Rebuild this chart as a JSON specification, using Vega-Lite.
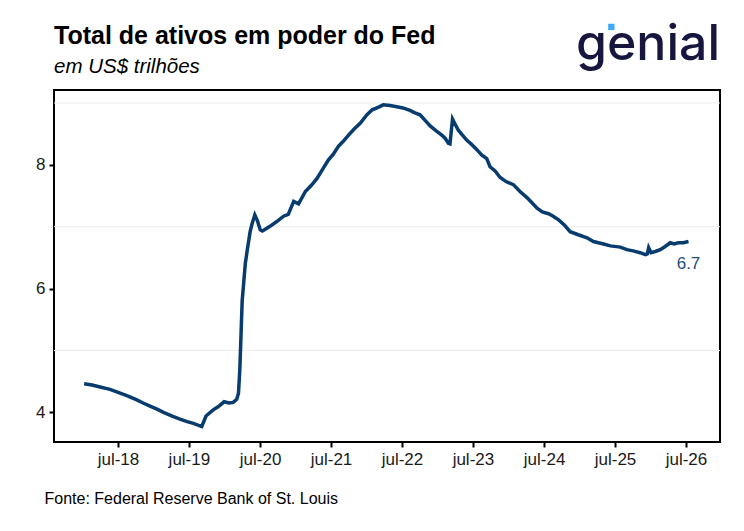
{
  "$schema": "https://vega.github.io/schema/vega-lite/v6.json",
  "width": 666,
  "height": 352,
  "autosize": "none",
  "padding": {"left": 54, "top": 90, "right": 24, "bottom": 89},
  "background": "white",
  "title": {
    "text": "Total de ativos em poder do Fed",
    "subtitle": "em US$ trilhões",
    "anchor": "start",
    "frame": "group",
    "font": "Liberation Sans",
    "fontSize": 25,
    "fontWeight": "bold",
    "color": "black",
    "subtitleFont": "Liberation Sans",
    "subtitleFontSize": 20.5,
    "subtitleFontStyle": "italic",
    "subtitleColor": "black",
    "subtitlePadding": 8,
    "offset": 12,
    "dy": 69
  },
  "config": {
    "view": {"stroke": "black", "strokeWidth": 2},
    "axis": {
      "labelFont": "Liberation Sans",
      "labelColor": "#1a1a1a",
      "labelFontSize": 17,
      "domain": false,
      "grid": false,
      "tickColor": "black",
      "tickWidth": 2,
      "tickSize": 5
    }
  },
  "datasets": {
    "fed": [
      {"date": "2018-01-08", "value": 4.46},
      {"date": "2018-02-18", "value": 4.44},
      {"date": "2018-03-31", "value": 4.41},
      {"date": "2018-05-21", "value": 4.37},
      {"date": "2018-07-12", "value": 4.31},
      {"date": "2018-08-22", "value": 4.26},
      {"date": "2018-10-06", "value": 4.20},
      {"date": "2018-11-07", "value": 4.15},
      {"date": "2018-12-13", "value": 4.10},
      {"date": "2019-01-18", "value": 4.05},
      {"date": "2019-02-20", "value": 4.00},
      {"date": "2019-04-06", "value": 3.94},
      {"date": "2019-05-16", "value": 3.89},
      {"date": "2019-06-22", "value": 3.85},
      {"date": "2019-07-24", "value": 3.82},
      {"date": "2019-09-05", "value": 3.77},
      {"date": "2019-09-27", "value": 3.94},
      {"date": "2019-11-03", "value": 4.04},
      {"date": "2019-11-28", "value": 4.09},
      {"date": "2019-12-29", "value": 4.17},
      {"date": "2020-01-23", "value": 4.15},
      {"date": "2020-02-14", "value": 4.16},
      {"date": "2020-03-03", "value": 4.21},
      {"date": "2020-03-12", "value": 4.31},
      {"date": "2020-03-19", "value": 4.70},
      {"date": "2020-03-25", "value": 5.25},
      {"date": "2020-03-31", "value": 5.80},
      {"date": "2020-04-08", "value": 6.10},
      {"date": "2020-04-16", "value": 6.40},
      {"date": "2020-04-26", "value": 6.62},
      {"date": "2020-05-11", "value": 6.92},
      {"date": "2020-05-21", "value": 7.05},
      {"date": "2020-06-04", "value": 7.19},
      {"date": "2020-06-17", "value": 7.10},
      {"date": "2020-07-02", "value": 6.95},
      {"date": "2020-07-13", "value": 6.93},
      {"date": "2020-08-03", "value": 6.97},
      {"date": "2020-08-23", "value": 7.01},
      {"date": "2020-09-23", "value": 7.08},
      {"date": "2020-10-30", "value": 7.17},
      {"date": "2020-11-23", "value": 7.20},
      {"date": "2020-12-21", "value": 7.41},
      {"date": "2021-01-15", "value": 7.37},
      {"date": "2021-02-19", "value": 7.57},
      {"date": "2021-03-22", "value": 7.67},
      {"date": "2021-04-20", "value": 7.78},
      {"date": "2021-05-17", "value": 7.92},
      {"date": "2021-06-18", "value": 8.08},
      {"date": "2021-07-12", "value": 8.17},
      {"date": "2021-08-08", "value": 8.30},
      {"date": "2021-09-02", "value": 8.38},
      {"date": "2021-09-29", "value": 8.48},
      {"date": "2021-10-28", "value": 8.58},
      {"date": "2021-11-28", "value": 8.67},
      {"date": "2022-01-02", "value": 8.81},
      {"date": "2022-01-29", "value": 8.89},
      {"date": "2022-02-28", "value": 8.93},
      {"date": "2022-03-27", "value": 8.97},
      {"date": "2022-05-01", "value": 8.96},
      {"date": "2022-06-04", "value": 8.94},
      {"date": "2022-07-06", "value": 8.92},
      {"date": "2022-08-11", "value": 8.88},
      {"date": "2022-09-06", "value": 8.84},
      {"date": "2022-10-02", "value": 8.81},
      {"date": "2022-10-28", "value": 8.72},
      {"date": "2022-11-23", "value": 8.63},
      {"date": "2022-12-24", "value": 8.55},
      {"date": "2023-01-22", "value": 8.48},
      {"date": "2023-02-08", "value": 8.43},
      {"date": "2023-02-25", "value": 8.35},
      {"date": "2023-03-05", "value": 8.34},
      {"date": "2023-03-18", "value": 8.74},
      {"date": "2023-03-31", "value": 8.66},
      {"date": "2023-04-17", "value": 8.56},
      {"date": "2023-05-06", "value": 8.49},
      {"date": "2023-05-30", "value": 8.40},
      {"date": "2023-06-21", "value": 8.34},
      {"date": "2023-07-20", "value": 8.25},
      {"date": "2023-08-15", "value": 8.16},
      {"date": "2023-09-10", "value": 8.10},
      {"date": "2023-09-27", "value": 7.97},
      {"date": "2023-10-23", "value": 7.90},
      {"date": "2023-11-17", "value": 7.80},
      {"date": "2023-12-18", "value": 7.73},
      {"date": "2024-01-25", "value": 7.68},
      {"date": "2024-02-28", "value": 7.57},
      {"date": "2024-04-04", "value": 7.47},
      {"date": "2024-04-26", "value": 7.40},
      {"date": "2024-05-26", "value": 7.30},
      {"date": "2024-06-22", "value": 7.24},
      {"date": "2024-07-24", "value": 7.21},
      {"date": "2024-08-17", "value": 7.17},
      {"date": "2024-09-14", "value": 7.11},
      {"date": "2024-10-13", "value": 7.03},
      {"date": "2024-11-12", "value": 6.92},
      {"date": "2024-12-24", "value": 6.87},
      {"date": "2025-02-07", "value": 6.82},
      {"date": "2025-03-12", "value": 6.76},
      {"date": "2025-05-03", "value": 6.72},
      {"date": "2025-06-07", "value": 6.69},
      {"date": "2025-07-28", "value": 6.67},
      {"date": "2025-08-31", "value": 6.63},
      {"date": "2025-10-02", "value": 6.61},
      {"date": "2025-11-07", "value": 6.58},
      {"date": "2025-12-04", "value": 6.55},
      {"date": "2025-12-14", "value": 6.56},
      {"date": "2025-12-21", "value": 6.66},
      {"date": "2026-01-02", "value": 6.58},
      {"date": "2026-01-24", "value": 6.60},
      {"date": "2026-02-19", "value": 6.63},
      {"date": "2026-03-16", "value": 6.68},
      {"date": "2026-04-11", "value": 6.74},
      {"date": "2026-05-01", "value": 6.72},
      {"date": "2026-05-23", "value": 6.74},
      {"date": "2026-06-17", "value": 6.74},
      {"date": "2026-07-14", "value": 6.76}
    ],
    "grid": [{"level": 5}, {"level": 7}, {"level": 9}]
  },
  "layer": [
    {
      "data": {"name": "grid"},
      "mark": {"type": "rule", "color": "#ebebeb", "strokeWidth": 1},
      "encoding": {
        "y": {
          "field": "level",
          "type": "quantitative",
          "scale": {"domain": [3.52, 9.21], "nice": false, "zero": false},
          "axis": {"values": [4, 6, 8], "format": "d", "title": null, "labelPadding": 4}
        }
      }
    },
    {
      "data": {"name": "fed"},
      "mark": {"type": "line", "color": "#083b6e", "strokeWidth": 3.5},
      "encoding": {
        "x": {
          "field": "date",
          "type": "temporal",
          "title": "Fonte: Federal Reserve Bank of St. Louis",
          "scale": {"domain": [{"year": 2017, "month": 8, "date": 6}, {"year": 2026, "month": 12, "date": 23}]},
          "axis": {
            "values": [
              {"year": 2018, "month": 7, "date": 1},
              {"year": 2019, "month": 7, "date": 1},
              {"year": 2020, "month": 7, "date": 1},
              {"year": 2021, "month": 7, "date": 1},
              {"year": 2022, "month": 7, "date": 1},
              {"year": 2023, "month": 7, "date": 1},
              {"year": 2024, "month": 7, "date": 1},
              {"year": 2025, "month": 7, "date": 1},
              {"year": 2026, "month": 7, "date": 1}
            ],
            "labelExpr": "lower(timeFormat(datum.value, '%b-%y'))",
            "labelPadding": 4,
            "titleFont": "Liberation Sans",
            "titleFontSize": 16,
            "titleFontWeight": "normal",
            "titleColor": "black",
            "titleAnchor": "start",
            "titleAlign": "left",
            "titleBaseline": "alphabetic",
            "titleX": -10,
            "titleY": 61
          }
        },
        "y": {
          "field": "value",
          "type": "quantitative",
          "scale": {"domain": [3.52, 9.21], "nice": false, "zero": false},
          "axis": {"values": [4, 6, 8], "format": "d", "title": null, "labelPadding": 4}
        }
      }
    },
    {
      "data": {"values": [{}]},
      "mark": {"type": "text", "font": "Liberation Sans", "fontSize": 17, "color": "#1f4d7a", "align": "center", "baseline": "middle", "dy": 22},
      "encoding": {
        "x": {"datum": {"year": 2026, "month": 7, "date": 14}, "type": "temporal"},
        "y": {"datum": 6.76, "type": "quantitative"},
        "text": {"value": "6.7"}
      }
    },
    {
      "data": {"values": [{}]},
      "mark": {"type": "text", "font": "Inter", "fontSize": 50, "fontWeight": 500, "color": "#16163f", "align": "right", "baseline": "alphabetic"},
      "encoding": {
        "x": {"datum": {"year": 2026, "month": 12, "date": 23}, "type": "temporal"},
        "y": {"datum": 9.69, "type": "quantitative"},
        "text": {"value": "genial"}
      }
    },
    {
      "data": {"values": [{}]},
      "mark": {"type": "point", "shape": "square", "filled": true, "size": 40, "color": "#3ea8f5", "opacity": 1},
      "encoding": {
        "x": {"datum": {"year": 2025, "month": 6, "date": 12}, "type": "temporal"},
        "y": {"datum": 10.23, "type": "quantitative"}
      }
    }
  ]
}
